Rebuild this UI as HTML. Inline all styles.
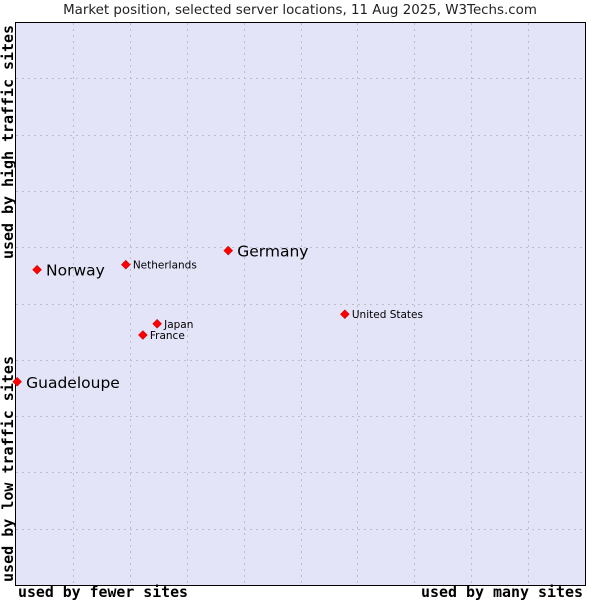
<!DOCTYPE html>
<html><head><meta charset="utf-8"><style>
body{margin:0;background:#fff;width:600px;height:600px;overflow:hidden}
svg text{font-family:"DejaVu Sans","Liberation Sans",sans-serif}
.mono{font-family:"DejaVu Sans Mono","Liberation Mono",monospace}
</style></head><body>
<svg id="chart" width="600" height="600" xmlns="http://www.w3.org/2000/svg">
<text x="300" y="14" text-anchor="middle" font-size="13.4" fill="#222">Market position, selected server locations, 11 Aug 2025, W3Techs.com</text>
<rect x="15.5" y="22.5" width="570" height="563" fill="#e3e4f7" stroke="#000" stroke-width="1"/>
<g id="grid"></g>
<g id="points"></g>
<text class="mono" x="18" y="597" font-size="14.8" font-weight="bold" fill="#000" textLength="170" lengthAdjust="spacingAndGlyphs">used by fewer sites</text>
<text class="mono" x="421" y="597" font-size="14.8" font-weight="bold" fill="#000" textLength="162" lengthAdjust="spacingAndGlyphs">used by many sites</text>
<text class="mono" transform="translate(13,259) rotate(-90)" font-size="14.8" font-weight="bold" fill="#000" textLength="234" lengthAdjust="spacingAndGlyphs">used by high traffic sites</text>
<text class="mono" transform="translate(13,582) rotate(-90)" font-size="14.8" font-weight="bold" fill="#000" textLength="226" lengthAdjust="spacingAndGlyphs">used by low traffic sites</text>
</svg>
<script>
const names=["Norway","Netherlands","Germany","Japan","France","United States","Guadeloupe"];
const xs=[3.7,19.3,37.3,24.8,22.3,57.8,0.2];
const ys=[56.0,56.9,59.4,46.4,44.4,48.1,36.1];
const big=[true,false,true,false,false,false,true];
const X0=16,X1=585,Y0=585,Y1=22;
const sx=v=>X0+(X1-X0)*v/100, sy=v=>Y0-(Y0-Y1)*v/100;
const NS="http://www.w3.org/2000/svg";
const g=document.getElementById('grid');
for(let i=1;i<10;i++){
 const l=document.createElementNS(NS,'line');
 const x=Math.round(sx(i*10))+0.5;
 l.setAttribute('x1',x);l.setAttribute('x2',x);l.setAttribute('y1',23);l.setAttribute('y2',585);
 l.setAttribute('stroke','#bdbdc8');l.setAttribute('stroke-dasharray','2,4');
 
 
 g.appendChild(l);
 const h=document.createElementNS(NS,'line');
 const y=Math.round(sy(i*10))+0.5;
 h.setAttribute('x1',16);h.setAttribute('x2',585);h.setAttribute('y1',y);h.setAttribute('y2',y);
 h.setAttribute('stroke','#bdbdc8');h.setAttribute('stroke-dasharray','2,4');
 
 
 g.appendChild(h);
}
const p=document.getElementById('points');
names.forEach((n,i)=>{
 const x=sx(xs[i]),y=sy(ys[i]);
 const d=document.createElementNS(NS,'path');
 d.setAttribute('d',`M${x} ${y-4.5}L${x+4.5} ${y}L${x} ${y+4.5}L${x-4.5} ${y}Z`);
 d.setAttribute('fill','#f00');d.setAttribute('stroke','#a00');d.setAttribute('stroke-width','0.5');
 
 
 p.appendChild(d);
 const t=document.createElementNS(NS,'text');
 t.setAttribute('x',x+(big[i]?9:7));t.setAttribute('y',y+(big[i]?6:4));
 t.setAttribute('font-size',big[i]?'15.5':'10.5');t.setAttribute('fill','#000');
 t.textContent=n;
 
 
 p.appendChild(t);
});
</script>
</body></html>
